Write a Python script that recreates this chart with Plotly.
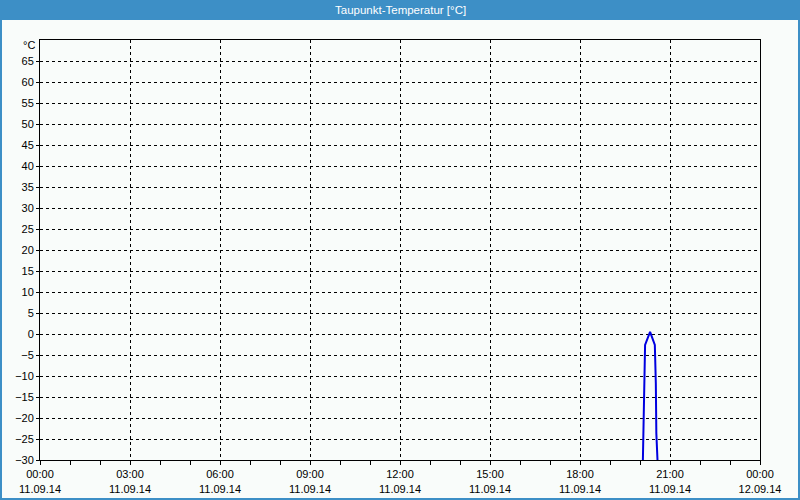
import plotly.graph_objects as go

# ---- data ----
times = ["2014-09-11 20:05:36", "2014-09-11 20:07:00", "2014-09-11 20:08:10",
         "2014-09-11 20:10:10", "2014-09-11 20:20:10", "2014-09-11 20:29:40",
         "2014-09-11 20:31:40", "2014-09-11 20:32:40", "2014-09-11 20:35:20"]
values = [-31, -21.2, -11.8, -2.6, 0.5, -2.6, -11.8, -23.6, -31]

title_text = "Taupunkt-Temperatur [°C]"
unit_label = "°C"
x_start = "2014-09-11 00:00"
x_end = "2014-09-12 00:00"
x_ticks = ["2014-09-11 00:00", "2014-09-11 03:00", "2014-09-11 06:00", "2014-09-11 09:00",
           "2014-09-11 12:00", "2014-09-11 15:00", "2014-09-11 18:00", "2014-09-11 21:00",
           "2014-09-12 00:00"]
y_ticks = list(range(-30, 70, 5))

BLUE = "#3d8fc6"
BG = "#f9fcfa"
FONT = "Liberation Sans"

W, H = 800, 500
L, R, T, B = 40, 40, 40, 40
pw, ph = W - L - R, H - T - B

def px(x):
    return (x - L) / pw

def py(y):
    return (H - B - y) / ph

fig = go.Figure()
fig.add_trace(go.Scatter(x=times, y=values, mode="lines",
                         line=dict(color="#0000e0", width=2), hoverinfo="skip"))

fig.update_layout(
    width=W, height=H,
    margin=dict(l=L, r=R, t=T, b=B, pad=0, autoexpand=False),
    paper_bgcolor=BLUE,
    plot_bgcolor="rgba(0,0,0,0)",
    showlegend=False,
    font=dict(family=FONT, size=11, color="black"),
    shapes=[
        dict(type="rect", xref="paper", yref="paper", layer="below",
             x0=px(2), x1=px(798), y0=py(20), y1=py(498),
             fillcolor=BG, line=dict(width=0)),
    ],
    annotations=[
        dict(text=title_text, xref="paper", yref="paper", x=px(400), y=py(10),
             xanchor="center", yanchor="middle", showarrow=False,
             font=dict(family=FONT, size=11.5, color="white")),
        dict(text=unit_label, xref="paper", yref="paper", x=px(37), y=py(45),
             xanchor="right", yanchor="middle", showarrow=False,
             font=dict(family=FONT, size=11, color="black")),
    ],
)

fig.update_xaxes(
    type="date", range=[x_start, x_end], automargin=False,
    tickvals=x_ticks, tickformat="%H:%M<br>%d.%m.%y",
    showgrid=True, gridcolor="black", gridwidth=1, griddash="3px,3px",
    showline=True, linecolor="black", linewidth=1, mirror=True,
    ticks="outside", ticklen=4, tickcolor="black",
    minor=dict(dtick=3600000, ticks="outside", ticklen=4, tickcolor="black", showgrid=False),
    zeroline=False, fixedrange=True,
    tickfont=dict(family=FONT, size=11, color="black"),
)
fig.update_yaxes(
    range=[-30, 70], tickvals=y_ticks, automargin=False,
    showgrid=True, gridcolor="black", gridwidth=1, griddash="3px,3px",
    showline=True, linecolor="black", linewidth=1, mirror=True,
    ticks="outside", ticklen=3, tickcolor="black",
    zeroline=False, fixedrange=True,
    tickfont=dict(family=FONT, size=11, color="black"),
)

fig.write_html("out.html")
